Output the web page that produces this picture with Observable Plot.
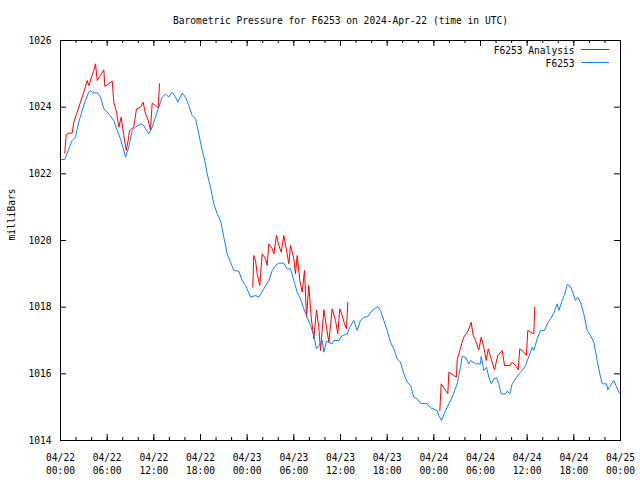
<!DOCTYPE html>
<html><head><meta charset="utf-8">
<script src="https://cdn.jsdelivr.net/npm/d3@7"></script>
<script src="https://cdn.jsdelivr.net/npm/@observablehq/plot@0.6"></script>
<style>body{margin:0;background:#fff}</style>
</head><body><div id="chart"></div>
<script>
const titleText = "Barometric Pressure for F6253 on 2024-Apr-22 (time in UTC)";
const yLabel = "milliBars";
const seriesNames = ["F6253 Analysis", "F6253"];
const seriesColors = ["#ff0000", "#1080ff"];
const yTickValues = [1014, 1016, 1018, 1020, 1022, 1024, 1026];

// hours since 2024-04-22 00:00 UTC
const blueHours = [0,0.55,1.07,1.5,1.93,2.35,2.79,3.21,3.64,3.86,
4.11,4.76,5.14,5.57,6.21,6.85,7.29,7.71,8.14,8.36,
8.78,9.22,9.64,10.29,10.71,10.93,11.35,11.79,12.21,12.64,
13.08,13.5,13.92,14.36,14.79,15.08,15.65,16.07,16.5,16.93,
17.36,17.78,18.22,18.55,18.86,19.29,19.71,20.15,20.57,21.0,
21.43,21.86,22.28,22.92,23.36,23.79,24.43,25.07,25.5,26.14,
26.78,27.22,27.64,28.07,28.71,29.14,29.57,30.0,30.43,30.86,
31.28,31.72,32.14,32.57,32.91,33.21,33.65,33.86,34.2,34.93,
35.14,35.78,36.22,36.86,37.2,37.71,38.15,38.57,39.0,39.51,
40.07,40.78,41.14,41.57,42.0,42.43,42.85,43.29,43.71,44.14,
44.58,45.0,45.42,45.86,46.29,47.15,47.57,48.43,48.64,48.99,
49.5,49.93,50.36,51.0,51.43,51.64,52.07,52.5,52.71,53.36,
54.0,54.09,54.42,54.77,55.07,55.38,55.71,56.06,56.35,56.66,
57.21,57.43,57.77,58.07,58.5,58.93,59.36,59.79,60.21,60.65,
60.85,61.29,61.71,62.23,62.58,63.0,63.42,63.86,64.07,64.5,
64.84,65.15,65.57,65.92,66.21,66.51,66.86,67.28,67.72,68.14,
68.57,69.0,69.34,69.65,70.2,70.37,70.71,71.14,71.5,71.84];
const bluePressure = [1022.43,1022.43,1022.75,1023.0,1023.1,1023.55,1023.9,1024.2,1024.45,1024.5,
1024.43,1024.43,1024.3,1023.95,1023.8,1023.6,1023.3,1023.05,1022.7,1022.5,
1022.8,1023.3,1023.4,1023.5,1023.45,1023.35,1023.2,1023.4,1023.7,1024.0,
1024.3,1024.4,1024.3,1024.45,1024.3,1024.15,1024.42,1024.3,1024.05,1023.75,
1023.65,1023.2,1022.7,1022.4,1022.0,1021.6,1021.1,1020.8,1020.6,1020.1,
1019.6,1019.35,1019.1,1019.08,1018.8,1018.65,1018.3,1018.35,1018.3,1018.55,
1018.8,1019.1,1019.25,1019.32,1019.32,1019.15,1019.15,1018.8,1018.45,1018.25,
1017.95,1017.7,1017.45,1017.15,1016.75,1016.85,1017.0,1016.65,1016.98,1016.9,
1017.0,1017.0,1017.15,1017.2,1017.4,1017.6,1017.3,1017.6,1017.7,1017.72,
1017.9,1018.02,1017.9,1017.6,1017.3,1016.95,1016.75,1016.45,1016.35,1016.0,
1015.75,1015.65,1015.3,1015.25,1015.12,1015.1,1014.98,1014.9,1014.75,1014.6,
1014.9,1015.1,1015.3,1015.7,1016.2,1016.52,1016.5,1016.3,1016.4,1016.3,
1016.3,1016.52,1016.1,1016.2,1015.9,1015.7,1015.85,1015.88,1015.7,1015.4,
1015.4,1015.48,1015.4,1015.7,1015.85,1016.0,1016.1,1016.25,1016.52,1016.8,
1016.7,1017.05,1017.3,1017.3,1017.5,1017.65,1017.82,1018.1,1017.9,1018.2,
1018.4,1018.68,1018.62,1018.4,1018.2,1018.3,1018.15,1017.8,1017.3,1017.15,
1016.95,1016.4,1016.0,1015.7,1015.7,1015.52,1015.65,1015.8,1015.6,1015.42];

const redHours = [0.55,0.73,1.07,1.5,1.71,2.15,2.57,3.0,3.43,3.64,3.99,4.28,4.5,4.72,5.14,5.57,5.7,6.21,6.65,6.85,
7.2,7.5,7.8,8.14,8.45,8.7,8.87,9.42,9.77,10.29,10.63,10.93,11.28,11.57,11.79,12.21,12.56,12.73,
24.72,24.85,25.07,25.29,25.62,25.93,26.36,26.57,26.78,27.22,27.43,27.77,28.07,28.38,28.71,29.14,29.35,29.57,30.0,30.21,
30.43,30.77,31.08,31.37,31.63,31.92,32.23,32.57,32.91,33.21,33.43,33.86,34.2,34.5,34.93,35.36,35.65,35.91,36.22,36.51,36.77,36.94,
48.77,48.95,49.37,49.8,49.93,50.57,50.91,51.0,51.34,51.64,51.85,52.15,52.42,52.8,53.06,53.36,53.78,54.09,54.42,54.73,
54.99,55.41,55.8,56.22,56.79,57.09,57.77,58.07,58.5,58.84,59.05,59.56,59.91,60.08,60.43,60.85,60.98];
const redPressure = [1022.62,1023.18,1023.22,1023.22,1023.55,1023.85,1024.15,1024.45,1024.8,1024.65,1024.9,1025.1,1025.3,1024.8,1024.95,1025.12,1024.62,1024.7,1024.78,1024.15,
1023.85,1023.4,1023.7,1023.15,1022.7,1023.0,1023.3,1023.4,1023.95,1024.0,1024.15,1023.8,1023.6,1023.32,1024.12,1024.05,1023.98,1024.7,
1018.6,1019.55,1019.4,1019.0,1018.65,1019.6,1019.45,1019.25,1019.9,1019.75,1019.6,1020.15,1019.85,1019.65,1020.15,1019.6,1019.3,1019.85,1019.45,1019.0,
1019.55,1018.8,1018.45,1019.1,1017.7,1018.65,1017.7,1017.05,1017.92,1017.4,1016.7,1017.92,1017.4,1016.95,1017.95,1017.6,1017.2,1017.95,1017.75,1017.5,1017.35,1018.15,
1014.9,1015.7,1015.55,1015.4,1016.05,1015.95,1015.9,1016.42,1016.7,1016.95,1017.1,1017.2,1017.3,1017.55,1017.15,1017.0,1016.72,1017.1,1016.8,1016.4,
1016.75,1016.42,1016.12,1016.55,1016.7,1016.25,1016.25,1016.35,1016.25,1016.12,1016.75,1016.65,1016.55,1017.3,1017.25,1017.2,1018.0];

(function () {
const start = Date.UTC(2024, 3, 22);
const toDate = h => new Date(start + h * 3600e3);
const blue = blueHours.map((h, i) => ({t: toDate(h), p: bluePressure[i]}));
let run = 0;
const red = redHours.map((h, i) => {
  if (i > 0 && h - redHours[i - 1] > 4) run++;
  return {t: toDate(h), p: redPressure[i], run};
});

const x0 = toDate(0), x1 = toDate(72);
const majorTicks = d3.utcHour.every(6).range(x0, toDate(72.01));
const minorTicks = d3.utcHour.every(2).range(x0, toDate(72.01));

const W = 640, H = 480, mL = 60, mR = 20, mT = 40, mB = 40;
const fw = W - mL - mR, fh = H - mT - mB;
const font = "'DejaVu Sans Mono', monospace";

const plot = Plot.plot({
  width: W, height: H,
  marginLeft: mL, marginRight: mR, marginTop: mT, marginBottom: mB,
  style: {fontFamily: font, fontSize: "9.6px", background: "#fff", color: "#000", overflow: "visible"},
  x: {type: "utc", domain: [x0, x1]},
  y: {domain: [1014, 1026]},
  marks: [
    Plot.line(red, {x: "t", y: "p", z: "run", stroke: seriesColors[0], strokeWidth: 1}),
    Plot.line(blue, {x: "t", y: "p", stroke: seriesColors[1], strokeWidth: 1}),
    Plot.frame({stroke: "#000"}),
    Plot.tickX(majorTicks, {x: d => d, insetTop: fh - 6, stroke: "#000"}),
    Plot.tickX(majorTicks, {x: d => d, insetBottom: fh - 6, stroke: "#000"}),
    Plot.tickX(minorTicks, {x: d => d, insetTop: fh - 3, stroke: "#000"}),
    Plot.tickX(minorTicks, {x: d => d, insetBottom: fh - 3, stroke: "#000"}),
    Plot.tickY(yTickValues, {y: d => d, insetRight: fw - 6, stroke: "#000"}),
    Plot.tickY(yTickValues, {y: d => d, insetLeft: fw - 6, stroke: "#000"}),
    Plot.axisX({ticks: majorTicks, tickSize: 0, tickPadding: 11, tickFormat: d3.utcFormat("%m/%d\n%H:%M"), lineHeight: 1.35, label: null, fontSize: 9.6}),
    Plot.axisY({ticks: yTickValues, tickSize: 0, tickPadding: 9, tickFormat: d => String(d), label: null, fontSize: 9.6}),
    Plot.text([titleText], {frameAnchor: "top", dy: -20, lineAnchor: "middle", fontSize: 9.6}),
    Plot.text([yLabel], {frameAnchor: "left", dx: -49, rotate: -90, lineAnchor: "middle", fontSize: 9.6}),
    Plot.text([seriesNames[0]], {frameAnchor: "top-right", dx: -46, dy: 10, textAnchor: "end", lineAnchor: "middle", fontSize: 9.6}),
    Plot.text([seriesNames[1]], {frameAnchor: "top-right", dx: -46, dy: 23, textAnchor: "end", lineAnchor: "middle", fontSize: 9.6})
  ]
});

const xr = plot.scale("x").range, yr = plot.scale("y").range;
const frameRight = Math.max(...xr), frameTop = Math.min(...yr);
const sv = d3.select(plot);
[0, 1].forEach(i => {
  sv.append("line")
    .attr("x1", frameRight - 39).attr("x2", frameRight - 11)
    .attr("y1", frameTop + 9.5 + 13 * i).attr("y2", frameTop + 9.5 + 13 * i)
    .attr("stroke", seriesColors[i]).attr("stroke-width", 1);
});
document.getElementById("chart").appendChild(plot);
})();
</script>
</body></html>
